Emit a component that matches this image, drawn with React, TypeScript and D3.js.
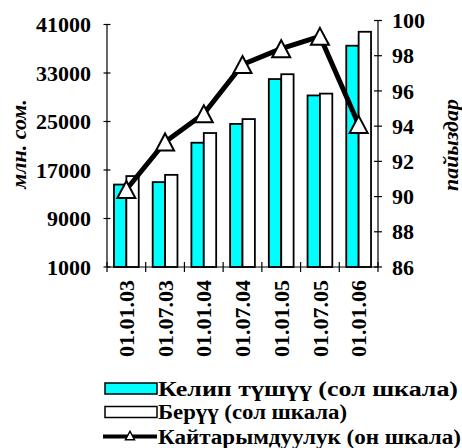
import React from "react";
import * as d3 from "d3";

const categories = ["01.01.03", "01.07.03", "01.01.04", "01.07.04", "01.01.05", "01.07.05", "01.01.06"];
const inflow = [14600, 15000, 21500, 24600, 32000, 29300, 37500];
const outflow = [16000, 16200, 23100, 25400, 32800, 29600, 39800];
const ratio = [90.4, 93.1, 94.7, 97.5, 98.4, 99.1, 94.1];
const leftTicks = [1000, 9000, 17000, 25000, 33000, 41000];
const rightTicks = [86, 88, 90, 92, 94, 96, 98, 100];
const legendLabels = ["Келип түшүү (сол шкала)", "Берүү (сол шкала)", "Кайтарымдуулук (он шкала)"];
const leftTitle = "млн. сом.";
const rightTitle = "пайыздар";

const W = 462;
const H = 448;
const CYAN = "#00FFFF";

export default function App() {
  const x = d3.scaleBand().domain(categories).range([107, 378]).padding(0);
  const yL = d3.scaleLinear().domain([1000, 41000]).range([267, 24.5]);
  const yR = d3.scaleLinear().domain([86, 100]).range([267, 20.5]);
  const bw = x.bandwidth() * 0.32;
  const cx = (c) => x(c) + x.bandwidth() / 2;

  const line = d3
    .line()
    .x((_, i) => cx(categories[i]))
    .y((d) => yR(d));

  const tri = (px, py, s = 1) =>
    `M${px},${py - 8.5 * s}L${px + 9 * s},${py + 8.5 * s}L${px - 9 * s},${py + 8.5 * s}Z`;

  const fs = 22;
  const legendY = [388.5, 412, 436.5];
  const legendLen = [300, 189, 303];
  const ts = { fontFamily: "Liberation Serif", fontWeight: "bold", fontSize: fs };
  const lts = { ...ts, fontSize: 20 };

  return (
    <svg
      width={W}
      height={H}
      fontFamily="Liberation Serif"
      style={{ position: "absolute", left: 0, top: 0, background: "#fff", fontFamily: "Liberation Serif" }}
    >
      <rect x={0} y={0} width={W} height={H} fill="#fff" />
      {/* bars */}
      {categories.map((c, i) => (
        <g key={c}>
          <rect
            x={cx(c) - bw}
            y={yL(inflow[i])}
            width={bw}
            height={yL(1000) - yL(inflow[i])}
            fill={CYAN}
            stroke="#000"
            strokeWidth={1.8}
          />
          <rect
            x={cx(c)}
            y={yL(outflow[i])}
            width={bw}
            height={yL(1000) - yL(outflow[i])}
            fill="#fff"
            stroke="#000"
            strokeWidth={1.8}
          />
        </g>
      ))}
      {/* left axis */}
      <line x1={107} x2={107} y1={yL(41000)} y2={yL(1000)} stroke="#000" strokeWidth={1.2} />
      {leftTicks.map((t) => (
        <g key={t}>
          <line x1={103.5} x2={110.5} y1={yL(t)} y2={yL(t)} stroke="#000" strokeWidth={1.2} />
          <text x={91} y={yL(t)} dy="0.35em" textAnchor="end" fontFamily="Liberation Serif" style={ts}>
            {t}
          </text>
        </g>
      ))}
      {/* right axis */}
      <line x1={378} x2={378} y1={yR(100)} y2={yR(86)} stroke="#000" strokeWidth={1.2} />
      {rightTicks.map((t) => (
        <g key={t}>
          <line x1={374} x2={382} y1={yR(t)} y2={yR(t)} stroke="#000" strokeWidth={1.2} />
          <text x={392} y={yR(t)} dy="0.35em" textAnchor="start" fontFamily="Liberation Serif" style={ts}>
            {t}
          </text>
        </g>
      ))}
      {/* x axis */}
      <line x1={107} x2={378} y1={267} y2={267} stroke="#000" strokeWidth={1.2} />
      {categories.map((c) => (
        <line key={c} x1={x(c)} x2={x(c)} y1={262} y2={272} stroke="#000" strokeWidth={1.2} />
      ))}
      <line x1={378} x2={378} y1={262} y2={272} stroke="#000" strokeWidth={1.2} />
      {categories.map((c) => (
        <text
          key={c}
          transform={`translate(${cx(c)},280) rotate(-90)`}
          textAnchor="end"
          dy="0.35em"
          fontFamily="Liberation Serif"
          style={ts}
        >
          {c}
        </text>
      ))}
      {/* line series */}
      <path d={line(ratio)} fill="none" stroke="#000" strokeWidth={5} strokeLinejoin="round" />
      {ratio.map((v, i) => (
        <path key={i} d={tri(cx(categories[i]), yR(v))} fill="#fff" stroke="#000" strokeWidth={2} />
      ))}
      {/* axis titles */}
      <text
        transform="translate(18,144) rotate(-90)"
        textAnchor="middle"
        dy="0.35em"
        fontFamily="Liberation Serif"
        style={{ ...ts, fontStyle: "italic" }}
      >
        {leftTitle}
      </text>
      <text
        transform="translate(450,145) rotate(-90)"
        textAnchor="middle"
        dy="0.35em"
        fontFamily="Liberation Serif"
        style={{ ...ts, fontStyle: "italic" }}
      >
        {rightTitle}
      </text>
      {/* legend */}
      <rect x={105} y={legendY[0] - 5.5} width={52} height={11} fill={CYAN} stroke="#000" strokeWidth={1.5} />
      <rect x={105} y={legendY[1] - 5.5} width={52} height={11} fill="#fff" stroke="#000" strokeWidth={1.5} />
      <line x1={103} x2={157} y1={legendY[2]} y2={legendY[2]} stroke="#000" strokeWidth={4} />
      <path d={tri(130, legendY[2] - 1, 0.5)} fill="#fff" stroke="#000" strokeWidth={1.5} />
      {legendLabels.map((l, i) => (
        <text
          key={l}
          x={158}
          y={legendY[i]}
          dy="0.35em"
          fontFamily="Liberation Serif"
          textLength={legendLen[i]}
          lengthAdjust="spacingAndGlyphs"
          style={lts}
        >
          {l}
        </text>
      ))}
    </svg>
  );
}
